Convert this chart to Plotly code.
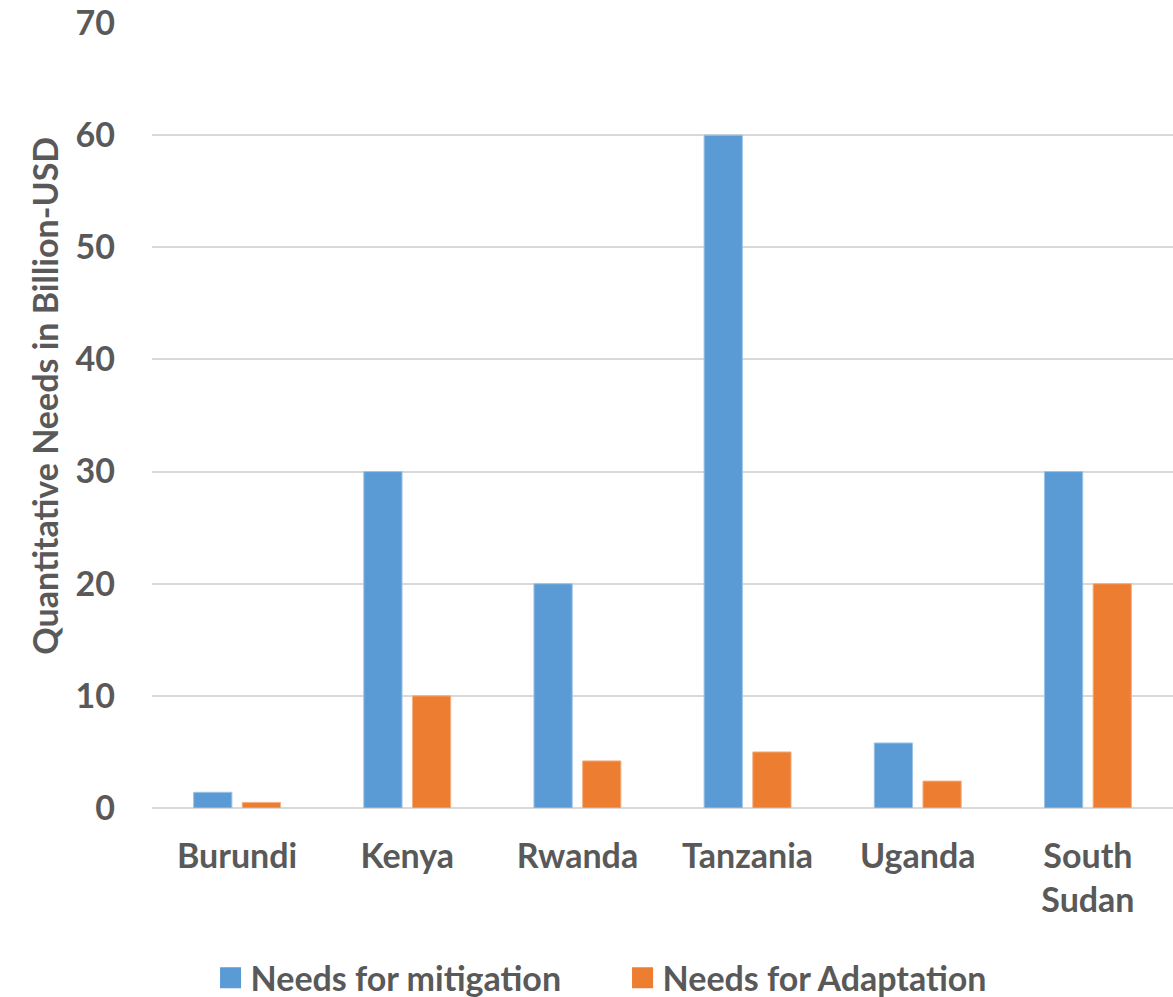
import plotly.graph_objects as go

# Country groups and the two categories of finance needs (billion USD)
countries = ["Burundi", "Kenya", "Rwanda", "Tanzania", "Uganda", "South<br>Sudan"]
mitigation = [1.4, 30, 20, 60, 5.8, 30]
adaptation = [0.5, 10, 4.2, 5, 2.4, 20]

y_ticks = [0, 10, 20, 30, 40, 50, 60, 70]

BLUE = "#5B9BD5"
ORANGE = "#ED7D31"
GREY_TEXT = "#595959"
FONT = "Lato"

fig = go.Figure()

fig.add_trace(go.Bar(
    x=countries, y=mitigation, name="Needs for mitigation",
    marker=dict(color=BLUE, line=dict(color="#9DC3E6", width=1)),
    showlegend=False,
))
fig.add_trace(go.Bar(
    x=countries, y=adaptation, name="Needs for Adaptation",
    marker=dict(color=ORANGE, line=dict(color="#F4B183", width=1)),
    showlegend=False,
))

# Legend entries with large square swatches
for name, color in [("Needs for mitigation", BLUE), ("Needs for Adaptation", ORANGE)]:
    fig.add_trace(go.Scatter(
        x=[None], y=[None], mode="markers", name=name,
        marker=dict(symbol="square", size=16, color=color,
                    line=dict(color=color, width=5)),
    ))

fig.update_layout(
    width=1173, height=997,
    margin=dict(l=152, r=0, t=23, b=189, autoexpand=False),
    paper_bgcolor="white", plot_bgcolor="white",
    barmode="group", bargap=0.428, bargroupgap=0.214,
    font=dict(family=FONT, color=GREY_TEXT, size=34),
    legend=dict(
        orientation="h", xref="container", yref="container",
        x=0.1795, xanchor="left", y=0.019, yanchor="middle",
        font=dict(family=FONT, size=34, color=GREY_TEXT, weight="bold"),
        itemwidth=30, traceorder="normal", entrywidthmode="pixels", entrywidth=367,
    ),
    xaxis=dict(
        showgrid=False, showline=False, ticks="",
        tickfont=dict(family=FONT, size=34, color=GREY_TEXT, weight="bold"),
        ticklabelstandoff=25,
    ),
    yaxis=dict(
        range=[0, 70], tickvals=y_ticks, showgrid=True,
        gridcolor="#D9D9D9", gridwidth=2,
        zeroline=True, zerolinecolor="#D9D9D9", zerolinewidth=2,
        showline=False, ticks="",
        tickfont=dict(family=FONT, size=34, color=GREY_TEXT, weight="bold"),
        ticklabelstandoff=36,
    ),
    annotations=[dict(
        text="Quantitative Needs in Billion-USD",
        xref="paper", yref="paper", x=-0.105, y=0.525,
        xanchor="center", yanchor="middle", textangle=-90, showarrow=False,
        font=dict(family=FONT, size=34, color=GREY_TEXT, weight="bold"),
    )],
)

fig.write_html("out.html")
